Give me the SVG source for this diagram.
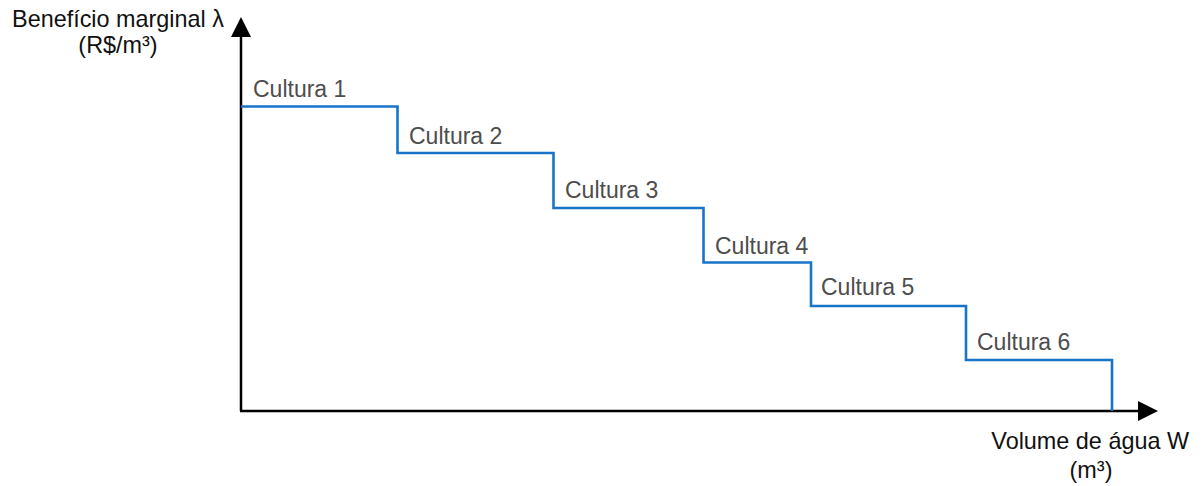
<svg xmlns="http://www.w3.org/2000/svg" width="1202" height="486" viewBox="0 0 1202 486">
<style>
.lbl{font-family:"Liberation Sans",Arial,sans-serif;font-size:23px;fill:#4d4d4d}
.ax{font-family:"Liberation Sans",Arial,sans-serif;font-size:23.4px;fill:#111}
.axis{stroke:#000;stroke-width:2.5;fill:none}
.step{stroke:#1874c8;stroke-width:2.6;fill:none}
</style>
<defs>
<marker id="arr" viewBox="0 0 20 20" refX="0" refY="10" markerWidth="20" markerHeight="20" markerUnits="userSpaceOnUse" orient="auto">
<path d="M0,0 L20,10 L0,20 Z" fill="#000"/>
</marker>
</defs>
<g id="connectors">
<path id="y-axis" class="axis" d="M241,411 V37" marker-end="url(#arr)"/>
<path id="x-axis" class="axis" d="M240,411 H1138" marker-end="url(#arr)"/>
<path id="steps" class="step" d="M241,106.5 H397.5 V153 H553.5 V208 H703.5 V262.5 H811 V306 H966 V360 H1112 V411"/>
</g>
<g id="axis-y-label">
<text class="ax" x="118" y="27" text-anchor="middle">Benefício marginal λ</text>
<text class="ax" x="118" y="53" text-anchor="middle">(R$/m³)</text>
</g>
<g id="axis-x-label">
<text class="ax" x="1189" y="449" text-anchor="end">Volume de água W</text>
<text class="ax" x="1091" y="478" text-anchor="middle">(m³)</text>
</g>
<g id="cultura1"><text class="lbl" x="253" y="97">Cultura 1</text></g>
<g id="cultura2"><text class="lbl" x="409" y="144">Cultura 2</text></g>
<g id="cultura3"><text class="lbl" x="565" y="198">Cultura 3</text></g>
<g id="cultura4"><text class="lbl" x="715" y="254">Cultura 4</text></g>
<g id="cultura5"><text class="lbl" x="821" y="295">Cultura 5</text></g>
<g id="cultura6"><text class="lbl" x="977" y="350">Cultura 6</text></g>
</svg>
